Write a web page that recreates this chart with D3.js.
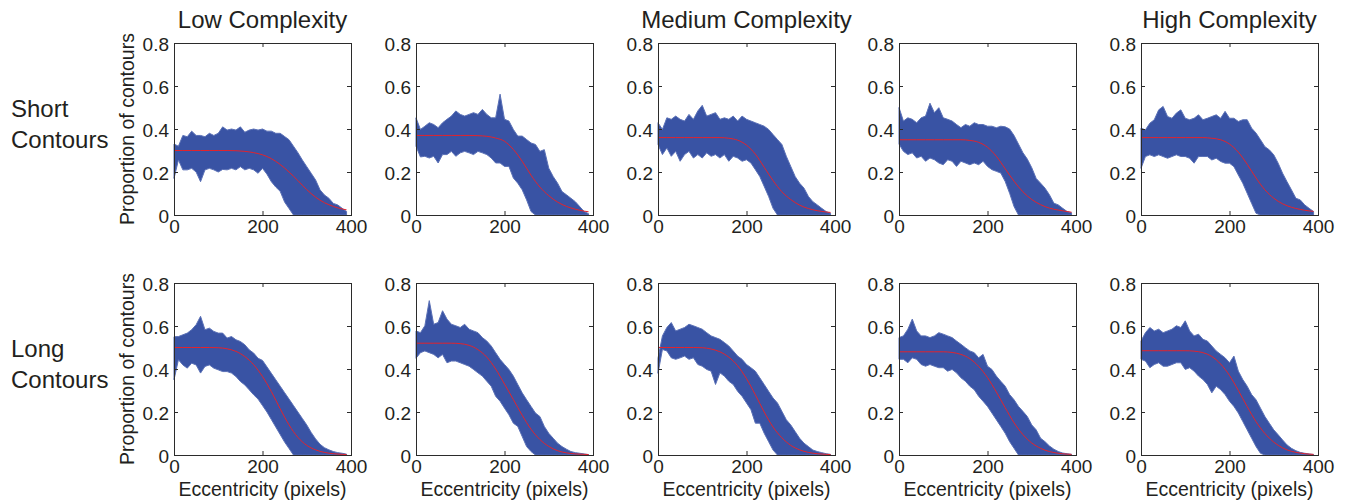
<!DOCTYPE html>
<html>
<head>
<meta charset="utf-8">
<script src="https://cdn.jsdelivr.net/npm/d3@7"></script>
<style>
  body { margin: 0; background: #fff; }
  svg { display: block; }
  text { font-family: "Liberation Sans", Arial, Helvetica, sans-serif; fill: #231f20; }
</style>
</head>
<body>
<svg id="chart" width="1347" height="502"></svg>
<script>
// Eccentricity grid (pixels) for the sampled contour proportions
const ecc = [0,10,20,30,40,50,60,70,80,90,100,110,120,130,140,150,160,170,180,190,
             200,210,220,230,240,250,260,270,280,290,300,310,320,330,340,350,360,370,380,390];
// Eccentricity grid for the fitted curves
const fitEcc = [0,20,40,60,80,100,120,140,160,180,200,220,240,260,280,300,320,340,360,380,390];

const colTitles = ["Low Complexity", "", "Medium Complexity", "", "High Complexity"];
const rowTitles = [["Short", "Contours"], ["Long", "Contours"]];
const yTicks = [0, 0.2, 0.4, 0.6, 0.8];
const yTickLabels = ["0", "0.2", "0.4", "0.6", "0.8"];
const xTicks = [0, 200, 400];
const xTickLabels = ["0", "200", "400"];

// Short contours: upper / lower extent of the per-pixel proportion, and the fit
const short1Hi = [.33,.32,.37,.364,.39,.37,.37,.364,.38,.37,.38,.41,.395,.40,.395,.41,.385,.395,.40,.395,
                  .40,.39,.39,.38,.38,.365,.35,.32,.29,.256,.225,.194,.163,.117,.093,.078,.054,.047,.031,.016];
const short1Lo = [.17,.256,.21,.21,.217,.20,.155,.21,.217,.21,.20,.212,.21,.217,.21,.225,.21,.217,.21,.194,
                  .217,.19,.155,.13,.11,.06,.03,0,0,0,0,0,0,0,0,0,0,0,0,0];
const short1Fit = [.300,.300,.300,.300,.300,.300,.300,.299,.296,.290,.280,.262,.235,.200,.160,.118,.083,.057,.040,.028,.024];

const short2Hi = [.452,.398,.413,.429,.421,.406,.429,.445,.460,.484,.468,.460,.468,.476,.468,.491,.468,.452,.452,.562,
                  .445,.437,.398,.367,.367,.351,.335,.328,.296,.304,.218,.179,.148,.109,.094,.078,.062,.039,.016,.006];
const short2Lo = [.32,.27,.273,.265,.273,.242,.281,.281,.296,.273,.289,.296,.289,.281,.296,.289,.281,.265,.242,.242,
                  .226,.226,.172,.148,.117,.070,.016,0,0,0,0,0,0,0,0,0,0,0,0,0];
const short2Fit = [.370,.370,.370,.370,.370,.370,.370,.369,.366,.358,.343,.305,.250,.185,.130,.090,.060,.040,.027,.018,.015];

const short3Hi = [.429,.398,.452,.445,.460,.445,.437,.468,.445,.484,.510,.460,.468,.476,.445,.452,.445,.460,.437,.460,
                  .445,.437,.429,.421,.413,.398,.374,.351,.328,.273,.226,.179,.148,.125,.086,.062,.047,.031,.016,.008];
const short3Lo = [.328,.281,.312,.273,.296,.250,.281,.296,.265,.281,.265,.289,.273,.281,.265,.281,.250,.273,.265,.250,
                  .257,.242,.211,.179,.133,.086,.031,0,0,0,0,0,0,0,0,0,0,0,0,0];
const short3Fit = [.360,.360,.360,.360,.360,.360,.360,.360,.357,.348,.325,.283,.222,.160,.108,.072,.046,.030,.020,.014,.012];

const short4Hi = [.50,.437,.452,.445,.429,.452,.460,.520,.476,.499,.452,.445,.437,.421,.406,.421,.413,.429,.421,.421,
                  .413,.413,.406,.413,.41,.40,.37,.33,.29,.26,.22,.17,.148,.125,.094,.055,.047,.031,.016,.01];
const short4Lo = [.33,.296,.281,.289,.265,.273,.250,.265,.257,.242,.234,.257,.250,.226,.250,.242,.234,.242,.234,.250,
                  .226,.211,.203,.195,.156,.101,.039,0,0,0,0,0,0,0,0,0,0,0,0,0];
const short4Fit = [.350,.350,.350,.350,.350,.350,.350,.350,.347,.338,.315,.273,.215,.157,.108,.072,.048,.032,.023,.016,.013];

const short5Hi = [.404,.396,.427,.443,.489,.505,.458,.450,.474,.489,.450,.443,.450,.466,.443,.450,.458,.466,.450,.482,
                  .450,.450,.435,.443,.443,.404,.381,.350,.318,.303,.280,.241,.194,.155,.117,.078,.070,.047,.031,.016];
const short5Lo = [.217,.272,.280,.272,.280,.272,.264,.272,.280,.272,.272,.264,.241,.272,.272,.272,.256,.264,.249,.241,
                  .241,.225,.186,.148,.101,.054,.008,0,0,0,0,0,0,0,0,0,0,0,0,0];
const short5Fit = [.360,.360,.360,.360,.360,.360,.360,.360,.357,.350,.330,.292,.236,.172,.117,.078,.052,.036,.026,.019,.017];

// Long contours
const long1Hi = [.55,.551,.559,.567,.583,.606,.645,.583,.590,.575,.567,.567,.544,.551,.536,.528,.513,.489,.474,.450,
                 .44,.41,.38,.35,.32,.29,.26,.23,.20,.17,.14,.105,.075,.05,.034,.024,.016,.011,.008,.004];
const long1Lo = [.35,.443,.419,.404,.427,.419,.381,.412,.419,.404,.396,.388,.388,.381,.365,.342,.326,.303,.28,.26,
                 .23,.20,.165,.13,.095,.06,.03,0,0,0,0,0,0,0,0,0,0,0,0,0];
const long1Fit = [.500,.500,.500,.500,.500,.499,.494,.482,.458,.420,.365,.295,.215,.140,.082,.045,.024,.012,.006,.003,.002];

const long2Hi = [.577,.569,.601,.718,.608,.616,.671,.632,.608,.601,.593,.608,.585,.577,.569,.546,.530,.507,.476,.445,
                 .421,.398,.367,.328,.289,.257,.226,.195,.179,.133,.101,.078,.055,.039,.027,.016,.011,.008,.005,.002];
const long2Lo = [.45,.476,.484,.476,.468,.452,.468,.429,.437,.437,.429,.421,.413,.398,.382,.367,.343,.320,.273,.250,
                 .218,.187,.148,.133,.086,.039,.016,0,0,0,0,0,0,0,0,0,0,0,0,0];
const long2Fit = [.520,.520,.520,.520,.520,.518,.510,.490,.455,.400,.330,.258,.185,.120,.072,.040,.020,.010,.005,.003,.002];

const long3Hi = [.45,.554,.593,.616,.577,.585,.593,.608,.601,.593,.585,.569,.554,.546,.538,.523,.507,.484,.460,.445,
                 .421,.406,.390,.359,.328,.296,.265,.242,.203,.164,.140,.109,.078,.055,.039,.023,.016,.011,.006,.003];
const long3Lo = [.38,.491,.484,.452,.445,.452,.460,.445,.452,.421,.413,.398,.390,.328,.382,.367,.343,.328,.296,.273,
                 .242,.211,.148,.148,.101,.062,.023,0,0,0,0,0,0,0,0,0,0,0,0,0];
const long3Fit = [.500,.500,.500,.500,.500,.499,.493,.480,.455,.415,.355,.280,.200,.130,.080,.045,.024,.012,.006,.003,.002];

const long4Hi = [.546,.554,.585,.632,.577,.554,.554,.546,.554,.569,.562,.554,.546,.530,.515,.499,.484,.476,.452,.468,
                 .413,.398,.367,.343,.320,.281,.257,.226,.203,.179,.140,.117,.078,.062,.042,.027,.016,.009,.006,.003];
const long4Lo = [.445,.445,.429,.452,.445,.421,.413,.421,.413,.406,.406,.390,.398,.382,.359,.343,.320,.304,.273,.250,
                 .226,.195,.164,.133,.101,.062,.031,0,0,0,0,0,0,0,0,0,0,0,0,0];
const long4Fit = [.480,.480,.480,.480,.480,.480,.477,.468,.448,.412,.360,.293,.220,.150,.095,.056,.031,.016,.008,.004,.003];

const long5Hi = [.530,.569,.593,.577,.585,.569,.577,.585,.601,.593,.624,.577,.554,.562,.538,.530,.507,.484,.468,.452,
                 .429,.460,.390,.351,.320,.281,.257,.218,.179,.148,.117,.094,.070,.047,.031,.020,.012,.008,.005,.002];
const long5Lo = [.445,.437,.406,.421,.429,.413,.413,.421,.429,.429,.398,.406,.390,.367,.351,.328,.289,.320,.304,.281,
                 .250,.226,.195,.156,.117,.078,.039,.008,0,0,0,0,0,0,0,0,0,0,0,0];
const long5Fit = [.485,.485,.485,.485,.485,.485,.483,.476,.458,.423,.370,.300,.225,.155,.100,.060,.033,.017,.009,.004,.003];

const panels = [
  {row: 0, col: 0, hi: short1Hi, lo: short1Lo, fit: short1Fit},
  {row: 0, col: 1, hi: short2Hi, lo: short2Lo, fit: short2Fit},
  {row: 0, col: 2, hi: short3Hi, lo: short3Lo, fit: short3Fit},
  {row: 0, col: 3, hi: short4Hi, lo: short4Lo, fit: short4Fit},
  {row: 0, col: 4, hi: short5Hi, lo: short5Lo, fit: short5Fit},
  {row: 1, col: 0, hi: long1Hi, lo: long1Lo, fit: long1Fit},
  {row: 1, col: 1, hi: long2Hi, lo: long2Lo, fit: long2Fit},
  {row: 1, col: 2, hi: long3Hi, lo: long3Lo, fit: long3Fit},
  {row: 1, col: 3, hi: long4Hi, lo: long4Lo, fit: long4Fit},
  {row: 1, col: 4, hi: long5Hi, lo: long5Lo, fit: long5Fit}
];

// Layout
const W = 177, H = 172;
const lefts = [174, 416, 658, 899, 1141];
const tops = [43, 283];
const BLUE = "#3953a4", EDGE = "#5a70b6", RED = "#e3232c", AXIS = "#2b2b2b";
const FONT = '"Liberation Sans", Arial, Helvetica, sans-serif';

const svg = d3.select("#chart");
const x = d3.scaleLinear().domain([0, 400]).range([0, W]);
const y = d3.scaleLinear().domain([0, 0.8]).range([H, 0]);

const bandArea = d3.area()
  .x(d => x(d.e)).y0(d => y(d.lo)).y1(d => y(d.hi));
const fitLine = d3.line()
  .x(d => x(d.e)).y(d => y(d.v)).curve(d3.curveMonotoneX);

panels.forEach(p => {
  const g = svg.append("g").attr("transform", `translate(${lefts[p.col]},${tops[p.row]})`);

  const band = ecc.map((e, i) => ({e, hi: p.hi[i], lo: p.lo[i]}));
  g.append("path").datum(band)
    .attr("d", bandArea)
    .attr("fill", BLUE)
    .attr("stroke", EDGE)
    .attr("stroke-width", 1)
    .attr("stroke-miterlimit", 8);

  const fit = fitEcc.map((e, i) => ({e, v: p.fit[i]}));
  g.append("path").datum(fit)
    .attr("d", fitLine)
    .attr("fill", "none")
    .attr("stroke", RED)
    .attr("stroke-width", 1);

  // frame
  g.append("rect").attr("x", 0.5).attr("y", 0.5).attr("width", W).attr("height", H)
    .attr("fill", "none").attr("stroke", AXIS).attr("stroke-width", 1);

  // inward ticks on all four sides, labels on left and bottom
  const left = g.append("g").call(d3.axisLeft(y).tickValues(yTicks)
      .tickFormat((d, i) => yTickLabels[i]).tickSize(-4).tickPadding(5));
  const bottom = g.append("g").attr("transform", `translate(0,${H})`)
    .call(d3.axisBottom(x).tickValues(xTicks)
      .tickFormat((d, i) => xTickLabels[i]).tickSize(-4).tickPadding(5));
  const right = g.append("g").attr("transform", `translate(${W},0)`)
    .call(d3.axisRight(y).tickValues(yTicks).tickFormat("").tickSize(-4));
  const top = g.append("g")
    .call(d3.axisTop(x).tickValues(xTicks).tickFormat("").tickSize(-4));

  [left, bottom, right, top].forEach(a => {
    a.select(".domain").remove();
    a.attr("color", AXIS).attr("font-size", 19).attr("font-family", FONT);
    a.selectAll("text").attr("fill", "#231f20");
  });
  left.selectAll("text").attr("dy", "0.42em");

  if (p.col === 0) {
    g.append("text")
      .attr("transform", `translate(-40,${H / 2}) rotate(-90)`)
      .attr("text-anchor", "middle")
      .attr("font-size", 19.5)
      .text("Proportion of contours");
  }
  if (p.row === 1) {
    g.append("text")
      .attr("x", W / 2).attr("y", H + 41)
      .attr("text-anchor", "middle")
      .attr("font-size", 19.5)
      .text("Eccentricity (pixels)");
  }
  if (p.row === 0 && colTitles[p.col]) {
    g.append("text")
      .attr("x", W / 2).attr("y", -15)
      .attr("text-anchor", "middle")
      .attr("font-size", 24)
      .text(colTitles[p.col]);
  }
});

// Row headings
rowTitles.forEach((lines, r) => {
  const t = svg.append("text")
    .attr("x", 11).attr("y", tops[r] + 74)
    .attr("font-size", 24);
  lines.forEach((s, k) => {
    t.append("tspan").attr("x", 11).attr("dy", k === 0 ? 0 : 31).text(s);
  });
});
</script>
</body>
</html>
